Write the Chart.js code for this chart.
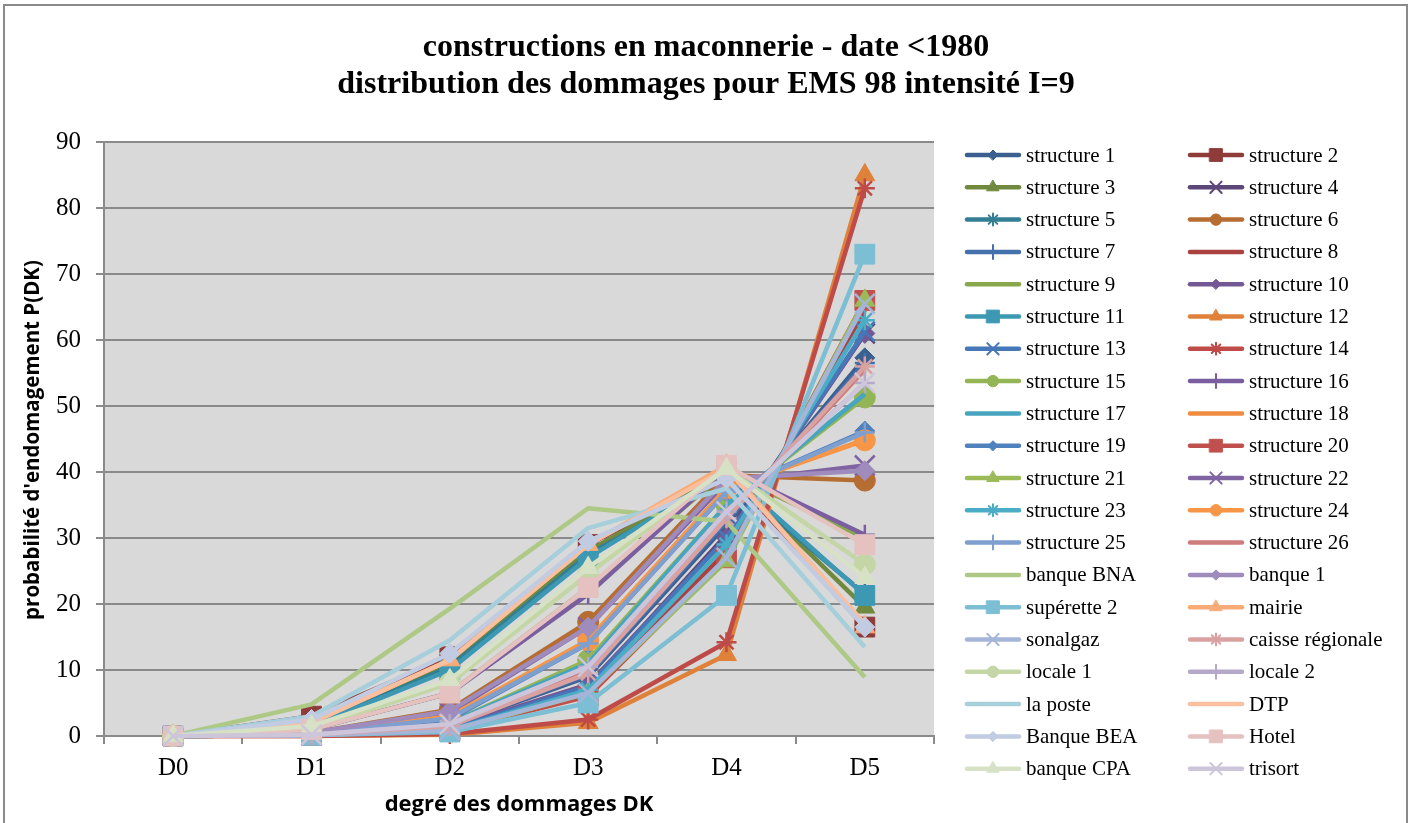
<!DOCTYPE html>
<html>
<head>
<meta charset="utf-8">
<script src="https://cdn.jsdelivr.net/npm/chart.js@4/dist/chart.umd.min.js"></script>
<style>
    body { margin: 0; background: #fff; }
    #wrap { width: 1413px; height: 823px; }
</style>
</head>
<body>
<div id="wrap"><canvas id="damageChart" width="1413" height="823"></canvas></div>
<script>
// degrés de dommage
const damageLevels = ['D0', 'D1', 'D2', 'D3', 'D4', 'D5'];

const seriesNames = [
    'structure 1', 'structure 2', 'structure 3', 'structure 4', 'structure 5', 'structure 6',
    'structure 7', 'structure 8', 'structure 9', 'structure 10', 'structure 11', 'structure 12',
    'structure 13', 'structure 14', 'structure 15', 'structure 16', 'structure 17', 'structure 18',
    'structure 19', 'structure 20', 'structure 21', 'structure 22', 'structure 23', 'structure 24',
    'structure 25', 'structure 26', 'banque BNA', 'banque 1', 'supérette 2', 'mairie',
    'sonalgaz', 'caisse régionale', 'locale 1', 'locale 2', 'la poste', 'DTP',
    'Banque BEA', 'Hotel', 'banque CPA', 'trisort'
];

// P(DK) en %
const structure1 = [0, 0.2, 1.5, 9, 32, 57.3];
const structure2 = [0, 3, 12, 29, 39.5, 16.5];
const structure3 = [0, 1.5, 11, 28, 40, 19.5];
const structure4 = [0, 0.1, 1, 7.5, 30.5, 61];
const structure5 = [0, 1.5, 10.5, 27.5, 39, 21.5];
const structure6 = [0, 0.5, 4, 17.3, 39.5, 38.7];
const structure7 = [0, 0.2, 1.5, 9.3, 32.5, 56.5];
const structure8 = [0, 0.1, 0.8, 6.5, 28, 64.5];
const structure9 = [0, 1, 6.5, 22.5, 40, 30];
const structure10 = [0, 0.1, 1.2, 7.8, 30, 61];
const structure11 = [0, 1.5, 10, 27, 40, 21.3];
const structure12 = [0, 0, 0.2, 2, 12.3, 85];
const structure13 = [0, 0.1, 1, 7.5, 30, 61.3];
const structure14 = [0, 0, 0.3, 2.5, 14.2, 83];
const structure15 = [0, 0.2, 2, 11.5, 35, 51.3];
const structure16 = [0, 1, 6.5, 21.5, 40.5, 30.5];
const structure17 = [0, 0.2, 2, 11, 35, 51.8];
const structure18 = [0, 0.3, 2.8, 14.5, 37.5, 44.9];
const structure19 = [0, 0.3, 2.5, 14, 37, 46.2];
const structure20 = [0, 0.1, 0.8, 6, 27, 66];
const structure21 = [0, 0.1, 0.8, 6.5, 26.5, 66];
const structure22 = [0, 0.5, 3.5, 16.5, 38.5, 41];
const structure23 = [0, 0.1, 0.9, 7, 29, 63];
const structure24 = [0, 0.3, 3, 14.5, 37.5, 44.8];
const structure25 = [0, 0.3, 2.7, 14, 37, 46];
const structure26 = [0, 0.2, 1.6, 9.8, 33, 55.5];
const banqueBNA = [0, 4.8, 19.3, 34.5, 32.5, 8.9];
const banque1 = [0, 0.5, 3.8, 16.5, 39, 40.2];
const superette2 = [0, 0.1, 0.6, 5, 21.3, 73];
const mairie = [0, 2, 11.5, 29, 41, 16.5];
const sonalgaz = [0, 0.1, 0.9, 6.5, 27, 65.5];
const caisseRegionale = [0, 0.2, 1.5, 9.5, 33, 56];
const locale1 = [0, 1, 8, 24.5, 40.5, 26];
const locale2 = [0, 0.2, 1.8, 10.5, 34, 53.5];
const laPoste = [0, 3, 14.5, 31.5, 37.5, 13.5];
const dtp = [0, 2, 11.5, 29, 40.5, 17];
const banqueBEA = [0, 2.5, 12.5, 29.5, 39, 16.5];
const hotel = [0, 1, 6.5, 22.5, 41, 29];
const banqueCPA = [0, 1.5, 8.5, 25.5, 40.5, 24];
const trisort = [0, 0.2, 1.8, 10.5, 34, 53.5];

const seriesValues = [
    structure1, structure2, structure3, structure4, structure5, structure6,
    structure7, structure8, structure9, structure10, structure11, structure12,
    structure13, structure14, structure15, structure16, structure17, structure18,
    structure19, structure20, structure21, structure22, structure23, structure24,
    structure25, structure26, banqueBNA, banque1, superette2, mairie,
    sonalgaz, caisseRegionale, locale1, locale2, laPoste, dtp,
    banqueBEA, hotel, banqueCPA, trisort
];

const seriesColors = [
    '#3b5f8f', '#8e3b39', '#71893f', '#5d4778', '#337e93', '#b66d31',
    '#4471ab', '#a9413e', '#89a84c', '#735895', '#3d99b3', '#df8139',
    '#4677b8', '#be4b48', '#93b555', '#7a5ea0', '#47a5c0', '#ef8c40',
    '#4f81bd', '#c0504d', '#9bbb59', '#8064a2', '#4bacc6', '#f79646',
    '#7f9fcf', '#cd7d7b', '#aec985', '#9f8cbc', '#7cbed4', '#f9ab77',
    '#a4b5d8', '#d9a2a1', '#c4d6a6', '#b5a9ca', '#a6cfdb', '#f9bf9f',
    '#c1cbe1', '#e5c1c0', '#d6e1c6', '#cdc6da'
];

// excel marker cycle: diamond, square, triangle, x, star, circle, plus, none, none
const markerCycle = ['rectRot', 'rect', 'triangle', 'crossRot', 'star', 'circle', 'cross', null, null];
const markerSize = { rectRot: 10, rect: 14, triangle: 11.5, crossRot: 14, star: 10, circle: 10.5, cross: 10 };
const legendMarkerSize = { rectRot: 5, rect: 9, triangle: 7, crossRot: 8, star: 6, circle: 5.7, cross: 7 };
const strokeMarkers = ['crossRot', 'star', 'cross'];

const gridGray = '#8a8a8a';
const serif = '"Liberation Serif", "Times New Roman", serif';

const datasets = seriesNames.map(function(name, i) {
    const marker = markerCycle[i % markerCycle.length];
    return {
        label: name,
        data: seriesValues[i],
        borderColor: seriesColors[i],
        backgroundColor: seriesColors[i],
        borderWidth: 4.5,
        borderJoinStyle: 'round',
        tension: 0,
        clip: false,
        pointStyle: marker || 'circle',
        pointRadius: marker ? markerSize[marker] : 0,
        pointHoverRadius: marker ? markerSize[marker] : 0,
        pointBorderWidth: strokeMarkers.includes(marker) ? 2.5 : 1,
        order: seriesNames.length - i   // later series on top, like excel
    };
});

const chartDecor = {
    id: 'chartDecor',
    beforeDraw(chart) {
        const ctx = chart.ctx;
        const area = chart.chartArea;
        ctx.save();
        ctx.fillStyle = '#ffffff';
        ctx.fillRect(0, 0, chart.width, chart.height);
        ctx.fillStyle = '#d9d9d9';
        ctx.fillRect(area.left, area.top, area.right - area.left, area.bottom - area.top);
        ctx.restore();
    },
    afterDraw(chart) {
        const ctx = chart.ctx;
        const area = chart.chartArea;
        ctx.save();

        // outer frame
        ctx.strokeStyle = gridGray;
        ctx.lineWidth = 2;
        ctx.strokeRect(4, 5, 1403, 840);

        // title
        ctx.fillStyle = '#000';
        ctx.font = 'bold 32px ' + serif;
        ctx.textAlign = 'center';
        ctx.textBaseline = 'alphabetic';
        ctx.fillText('constructions en maconnerie - date <1980', 706, 56);
        ctx.fillText('distribution des dommages pour EMS 98 intensité I=9', 706, 93);

        // y axis title
        ctx.save();
        ctx.translate(33, (area.top + area.bottom) / 2 + 1);
        ctx.rotate(-Math.PI / 2);
        ctx.textBaseline = 'middle';
        ctx.font = 'bold 20.5px "Open Sans", sans-serif';
        ctx.fillText("probabilité d'endomagement P(DK)", 0, 0);
        ctx.restore();

        // legend, two columns, row by row
        ctx.textAlign = 'left';
        ctx.textBaseline = 'middle';
        ctx.font = '21px ' + serif;
        chart.data.datasets.forEach(function(ds, i) {
            const x0 = i % 2 === 0 ? 965 : 1188;
            const y = 155 + Math.floor(i / 2) * 32.3;
            ctx.strokeStyle = ds.borderColor;
            ctx.fillStyle = ds.borderColor;
            ctx.lineWidth = 4.5;
            ctx.lineCap = 'round';
            ctx.beginPath();
            ctx.moveTo(x0 + 2, y);
            ctx.lineTo(x0 + 54, y);
            ctx.stroke();
            const marker = markerCycle[i % markerCycle.length];
            if (marker) {
                ctx.lineWidth = strokeMarkers.includes(marker) ? 2 : 1;
                Chart.helpers.drawPoint(ctx, {
                    pointStyle: marker,
                    rotation: 0,
                    radius: legendMarkerSize[marker],
                    borderWidth: ctx.lineWidth
                }, x0 + 28, y);
            }
            ctx.fillStyle = '#000';
            ctx.fillText(ds.label, x0 + 61, y + 1);
        });
        ctx.restore();
    }
};

new Chart(document.getElementById('damageChart'), {
    type: 'line',
    data: {
        labels: damageLevels,
        datasets: datasets
    },
    options: {
        responsive: false,
        animation: false,
        events: [],
        layout: {
            padding: { left: 4, right: 479, top: 142, bottom: 0 }
        },
        plugins: {
            legend: { display: false },
            title: { display: false },
            tooltip: { enabled: false }
        },
        scales: {
            x: {
                offset: true,
                afterFit: function(scale) { scale.height = 87; },
                grid: {
                    offset: true,
                    drawOnChartArea: false,
                    drawTicks: true,
                    tickLength: 8,
                    color: gridGray,
                    lineWidth: 2
                },
                border: { color: gridGray, width: 2 },
                ticks: {
                    color: '#000',
                    padding: 9,
                    font: { family: serif, size: 25 }
                },
                title: {
                    display: true,
                    text: 'degré des dommages DK',
                    color: '#000',
                    padding: { top: 0, bottom: 5 },
                    font: { family: '"Open Sans", sans-serif', size: 22, weight: 'bold' }
                }
            },
            y: {
                min: 0,
                max: 90,
                afterFit: function(scale) { scale.width = 100; },
                grid: {
                    color: gridGray,
                    lineWidth: 2,
                    drawTicks: true,
                    tickLength: 8
                },
                border: { color: gridGray, width: 2 },
                ticks: {
                    stepSize: 10,
                    color: '#000',
                    padding: 15,
                    font: { family: serif, size: 25 }
                }
            }
        }
    },
    plugins: [chartDecor]
});
</script>
</body>
</html>
